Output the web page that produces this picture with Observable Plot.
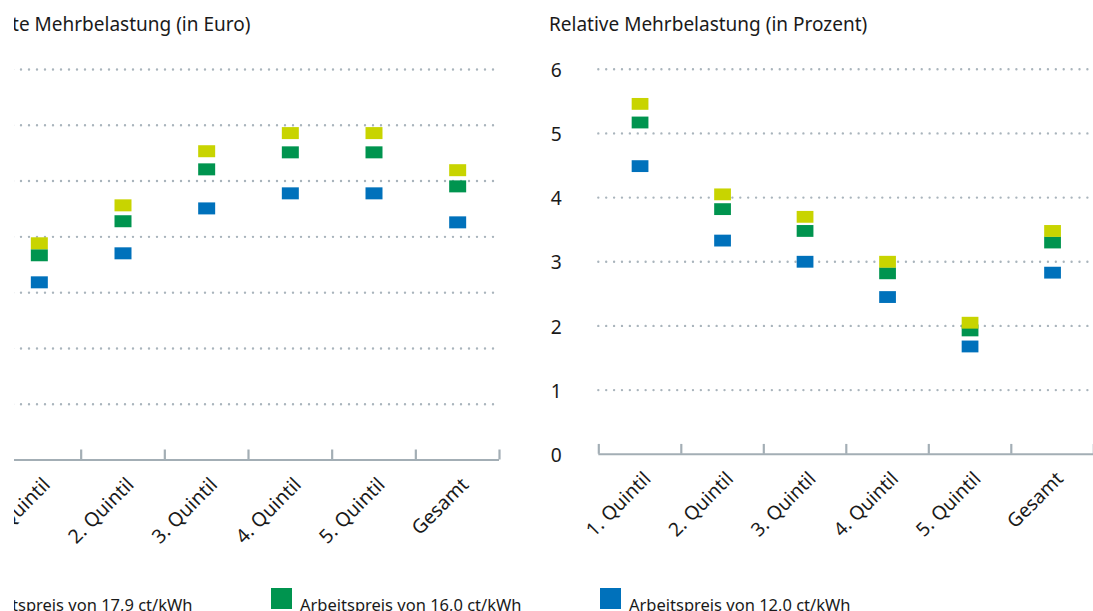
<!DOCTYPE html>
<html><head><meta charset="utf-8">
<script src="https://cdn.jsdelivr.net/npm/d3@7"></script>
<script src="https://cdn.jsdelivr.net/npm/@observablehq/plot@0.6"></script>
<style>
html,body{margin:0;padding:0;background:#fff;}
body{width:1093px;height:611px;overflow:hidden;position:relative;font-family:"Noto Sans",sans-serif;color:#1a1a1a;}
#clip{position:absolute;left:14px;top:0;width:1079px;height:611px;overflow:hidden;}
.title{position:absolute;top:15px;font-size:19px;line-height:19px;white-space:nowrap;}
.svgwrap{position:absolute;top:50px;line-height:0;}
.svgwrap svg{display:block;}
.sw{position:absolute;top:588px;width:21px;height:21px;}
.lt{position:absolute;top:597px;font-size:16.5px;line-height:16.5px;white-space:nowrap;}
</style>
</head><body>
<div id="clip"></div>
<script>
// ---- data ----
const categories = ["1. Quintil", "2. Quintil", "3. Quintil", "4. Quintil", "5. Quintil", "Gesamt"];
const series = ["Arbeitspreis von 17,9 ct/kWh", "Arbeitspreis von 16,0 ct/kWh", "Arbeitspreis von 12,0 ct/kWh"];
const colors = ["#c8d400", "#00944f", "#0071bb"];
const titleAbsolut = "Absolute Mehrbelastung (in Euro)";
const titleRelativ = "Relative Mehrbelastung (in Prozent)";
// Absolute Mehrbelastung (Euro)
const absolut179 = [777, 913, 1107, 1172, 1172, 1039];
const absolut160 = [734, 856, 1042, 1103, 1103, 981];
const absolut120 = [637, 741, 902, 956, 956, 852];
const absolutTicks = [0, 200, 400, 600, 800, 1000, 1200, 1400];
// Relative Mehrbelastung (Prozent)
const relativ179 = [5.46, 4.05, 3.70, 3.00, 2.05, 3.48];
const relativ160 = [5.17, 3.82, 3.48, 2.82, 1.93, 3.30];
const relativ120 = [4.49, 3.33, 3.00, 2.45, 1.68, 2.83];
const relativTicks = [0, 1, 2, 3, 4, 5, 6];

const boundaries = d3.range(categories.length + 1);
const rectSymbol = {draw(ctx) { ctx.rect(-8.5, -6, 17, 12); }};
const ink = "#1a1a1a";
const gridColor = "#a9b4bc";
const axisColor = "#a3aeb5";

function rows(valueArrays) {
  const out = [];
  // draw order: 12,0 first, then 16,0, then 17,9 on top
  [2, 1, 0].forEach(s => valueArrays[s].forEach((v, i) => out.push({series: series[s], cat: categories[i], idx: i, value: v})));
  return out;
}

function panel(left, titleLeft, title, valueArrays, ticks) {
  const clip = document.getElementById("clip");
  const t = document.createElement("div");
  t.className = "title"; t.style.left = titleLeft + "px"; t.textContent = title;
  clip.appendChild(t);
  const data = rows(valueArrays);
  const ymax = ticks[ticks.length - 1];
  const chart = Plot.plot({
    width: 552, height: 561,
    marginLeft: 50, marginRight: 0, marginTop: 19, marginBottom: 151.5,
    style: {fontFamily: "Noto Sans", fontSize: "19.5px", color: ink, background: "transparent", overflow: "visible"},
    x: {type: "linear", domain: [0, categories.length], axis: null},
    y: {domain: [0, ymax], axis: null},
    color: {domain: series, range: colors},
    marks: [
      Plot.ruleY(ticks.filter(d => d > 0), {stroke: gridColor, strokeWidth: 2.4, strokeDasharray: "0 8", strokeLinecap: "round"}),
      Plot.axisY(ticks, {label: null, tickSize: 0, tickPadding: 37.5, dy: 1.5, fontSize: 19.5, color: ink, tickFormat: d => String(d)}),
      Plot.ruleY([0], {stroke: axisColor, strokeWidth: 2.2}),
      Plot.ruleX(boundaries, {x: d => d, y1: 0, y2: 0, insetTop: -10, stroke: axisColor, strokeWidth: 2.2}),
      Plot.text(categories, {x: (d, i) => i + 0.5, y: () => 0, text: d => d, rotate: -45, textAnchor: "end", lineAnchor: "bottom", dx: 12, dy: 26, fontSize: 19.5, fill: ink}),
      Plot.dot(data, {x: d => d.idx + 0.5, y: "value", fill: "series", symbol: rectSymbol, stroke: null})
    ]
  });
  const w = document.createElement("div");
  w.className = "svgwrap"; w.style.left = left + "px";
  w.appendChild(chart);
  clip.appendChild(w);
}

panel(-67.4, -63, titleAbsolut, [absolut179, absolut160, absolut120], absolutTicks);
panel(534.7, 535, titleRelativ, [relativ179, relativ160, relativ120], relativTicks);

// legend
const legendLeft = [-72, 257, 586];
const clip = document.getElementById("clip");
series.forEach((s, i) => {
  const sw = document.createElement("div");
  sw.className = "sw"; sw.style.left = legendLeft[i] + "px"; sw.style.background = colors[i];
  clip.appendChild(sw);
  const lt = document.createElement("div");
  lt.className = "lt"; lt.style.left = (legendLeft[i] + 29) + "px"; lt.textContent = s;
  clip.appendChild(lt);
});
</script>
</body></html>
